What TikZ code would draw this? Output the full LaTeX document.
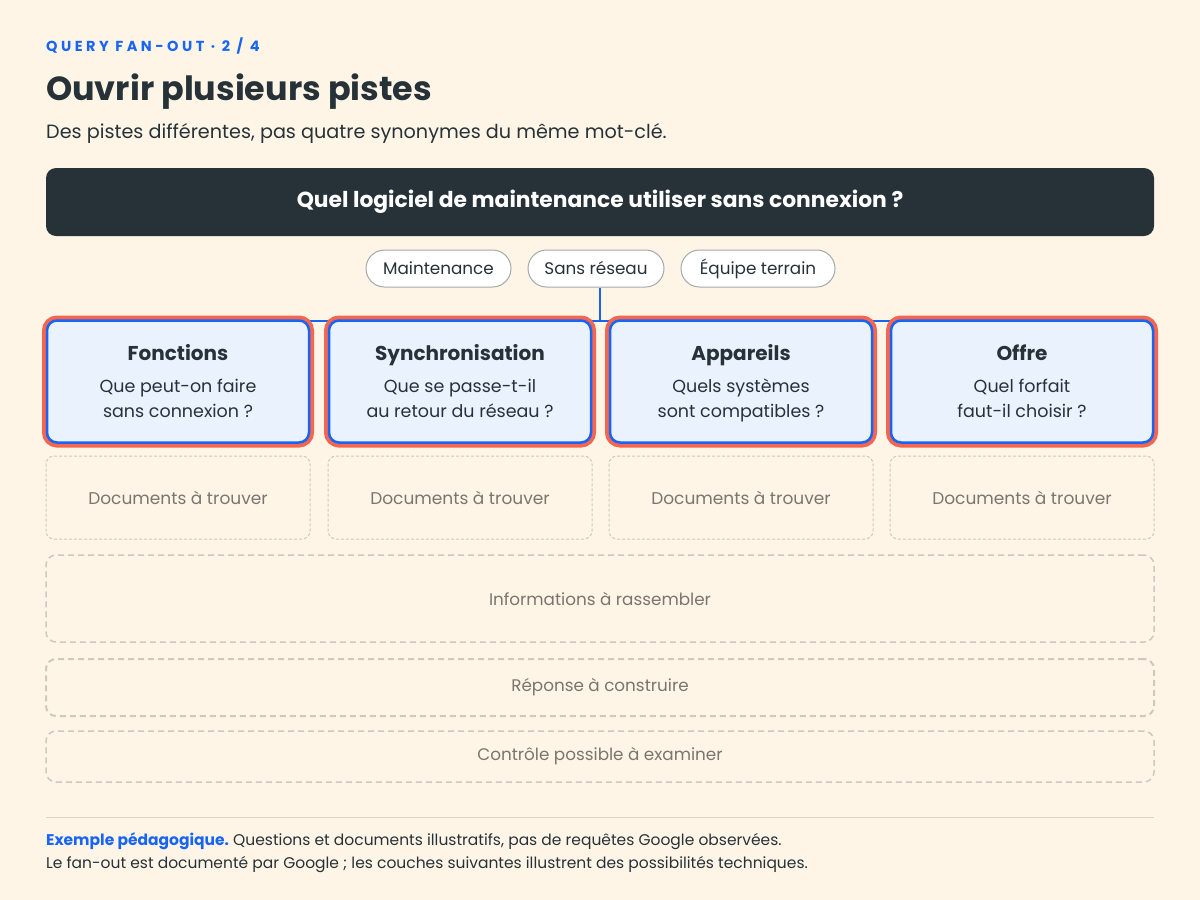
\documentclass[tikz,border=0pt]{standalone}
\usepackage{fontspec}
\setmainfont{Poppins}
\usetikzlibrary{positioning}

\definecolor{paper}{HTML}{FFF5E7}
\definecolor{ink}{HTML}{263238}
\definecolor{accent}{HTML}{1764F5}
\definecolor{cardfill}{HTML}{EAF2FE}
\definecolor{coral}{HTML}{F4664F}
\definecolor{chipline}{HTML}{A3A8AA}
\definecolor{dashline}{HTML}{CFC8BE}
\definecolor{muted}{HTML}{7A756E}
\definecolor{rulecol}{HTML}{DCD3C6}

\begin{document}
\begin{tikzpicture}
	[x=1pt,y=-1pt,every node/.style={inner sep=0pt,text=ink},
	chip/.style={draw=chipline,line width=1pt,fill=white,rounded corners=18.5pt,minimum height=37pt,font=\fontsize{16.8}{19}\selectfont},
	card/.style={draw=accent,line width=2.5pt,fill=cardfill,rounded corners=10pt,minimum width=262pt,minimum height=122pt,align=center,font=\fontsize{17.5}{25}\selectfont,preaction={draw=coral,line width=10pt}},
	docbox/.style={draw=dashline,line width=1pt,dash pattern=on 3pt off 2pt,rounded corners=8pt,minimum width=264pt,minimum height=83pt,text=muted,font=\fontsize{17}{19}\selectfont},
	stage/.style={draw=dashline,line width=1.5pt,dash pattern=on 6pt off 4pt,rounded corners=10pt,minimum width=1108pt,text=muted,font=\fontsize{16.8}{19}\selectfont}]
	\useasboundingbox (0,0) rectangle (1200,900);
	\fill[paper] (0,0) rectangle (1200,900);

	\node[anchor=base west,text=accent,font=\bfseries\fontsize{14.5}{16}\selectfont\addfontfeatures{LetterSpace=24}] (kicker) at (46,51) {QUERY FAN-OUT · 2 / 4};
	\node[anchor=base west,font=\bfseries\fontsize{33.4}{38}\selectfont] (title) at (46,100) {Ouvrir plusieurs pistes};
	\node[anchor=base west,font=\fontsize{19.2}{23}\selectfont] (subtitle) at (46,138) {Des pistes différentes, pas quatre synonymes du même mot-clé.};

	\node[fill=ink,rounded corners=10pt,minimum width=1108pt,minimum height=68pt,text=white,font=\bfseries\fontsize{21.8}{26}\selectfont] (query) at (600,202) {Quel logiciel de maintenance utiliser sans connexion ?};

	\node[chip,minimum width=145pt] (maint) at (438.5,268.5) {Maintenance};
	\node[chip,minimum width=136pt] (sans) at (596,268.5) {Sans réseau};
	\node[chip,minimum width=154pt] (equipe) at (758,268.5) {Équipe terrain};

	\coordinate (hub) at (600,321);
	\coordinate (left) at (178,321);
	\coordinate (right) at (1022,321);
	\draw[accent,line width=2pt] (hub |- sans.south) -- (hub);
	\draw[accent,line width=2pt] (left) -- (right);

	\foreach \name/\x/\head/\lineA/\lineB in
	{c1/178/Fonctions/Que peut-on faire/sans connexion ?,
	c2/460/Synchronisation/Que se passe-t-il/au retour du réseau ?,
	c3/741/Appareils/Quels systèmes/sont compatibles ?,
	c4/1022/Offre/Quel forfait/faut-il choisir ?}
	\node[card] (\name) at (\x,381.5) {{\bfseries\fontsize{20}{23}\selectfont\rule[-7pt]{0pt}{29pt}\head}\\[7pt]\lineA\\\lineB\strut};

	\foreach \i/\x in {1/178,2/460,3/741,4/1022}
	\node[docbox] (d\i) at (\x,497.5) {Documents à trouver};

	\node[stage,minimum height=87pt] (gather) at (600,598.5) {Informations à rassembler};
	\node[stage,minimum height=57pt,line width=2pt] (answer) at (600,687.5) {Réponse à construire};
	\node[stage,minimum height=51pt] (check) at (600,756.5) {Contrôle possible à examiner};

	\draw[rulecol,line width=1pt] (46,817) -- (1154,817);
	\node[anchor=base west,font=\fontsize{15.5}{18}\selectfont] (note1) at (46,845) {\textcolor{accent}{\bfseries Exemple pédagogique.}\ Questions et documents illustratifs, pas de requêtes Google observées.};
	\node[anchor=base west,font=\fontsize{15.5}{18}\selectfont] (note2) at (46,868) {Le fan-out est documenté par Google ; les couches suivantes illustrent des possibilités techniques.};
\end{tikzpicture}
\end{document}
